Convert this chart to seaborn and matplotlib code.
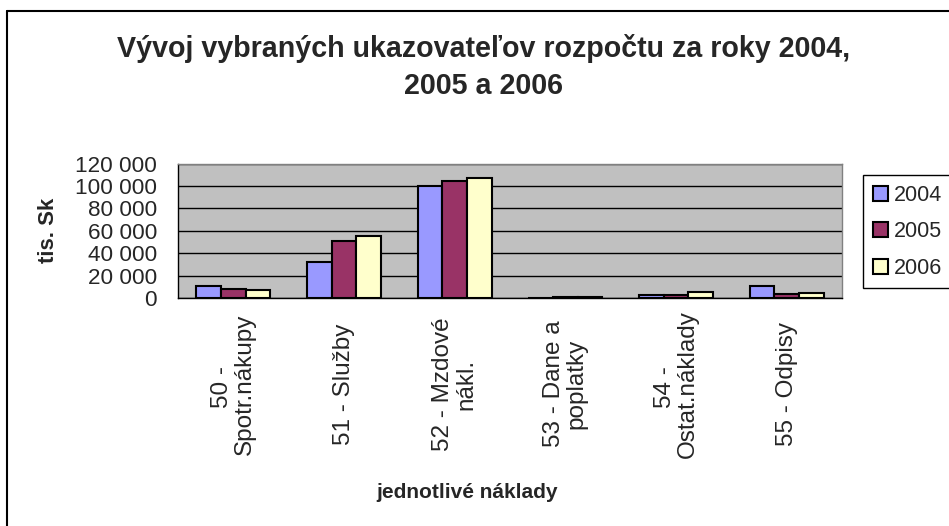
import matplotlib
matplotlib.use("Agg")
import matplotlib.pyplot as plt
import seaborn as sns
import pandas as pd
from matplotlib.lines import Line2D
from matplotlib.ticker import FuncFormatter, FixedLocator

# ---- data ----
categories = ["50 - \nSpotr.nákupy", "51 - Služby", "52 - Mzdové\nnákl.",
              "53 - Dane a\npoplatky", "54 - \nOstat.náklady", "55 - Odpisy"]
years = ["2004", "2005", "2006"]
values_2004 = [10700, 32300, 99500, 150, 2400, 10700]
values_2005 = [8300, 50900, 104200, 800, 3000, 3850]
values_2006 = [7100, 55300, 107500, 900, 5600, 4400]
y_ticks = [0, 20000, 40000, 60000, 80000, 100000, 120000]
title_text = "Vývoj vybraných ukazovateľov rozpočtu za roky 2004,\n2005 a 2006"
x_label = "jednotlivé náklady"
y_label = "tis. Sk"
colors = ["#9999FF", "#993366", "#FFFFCC"]

rows = []
for yr, vals in zip(years, [values_2004, values_2005, values_2006]):
    for c, v in zip(categories, vals):
        rows.append({"kategoria": c, "rok": yr, "hodnota": v})
df = pd.DataFrame(rows)

sns.set_style("white")
plt.rcParams["font.family"] = ["Liberation Sans", "DejaVu Sans"]

W, H = 949, 526
fig = plt.figure(figsize=(W / 100, H / 100), dpi=100)
fig.patch.set_facecolor("white")

ax = fig.add_axes([178 / W, 1 - 298 / H, (842 - 178) / W, (298 - 163.5) / H])
ax.set_facecolor("#C0C0C0")

sns.barplot(data=df, x="kategoria", y="hodnota", hue="rok", order=categories,
            hue_order=years, palette=colors, saturation=1, width=0.67,
            edgecolor="black", linewidth=1.5, ax=ax, errorbar=None)

ax.set_xlim(-0.5, len(categories) - 0.5)
ax.set_ylim(y_ticks[0], y_ticks[-1])
ax.yaxis.set_major_locator(FixedLocator(y_ticks))
ax.yaxis.set_major_formatter(FuncFormatter(lambda v, p: f"{int(v):,}".replace(",", " ")))
ax.grid(axis="y", color="black", linewidth=1)
ax.set_axisbelow(True)

for s in ["top", "right"]:
    ax.spines[s].set_color("#808080")
    ax.spines[s].set_linewidth(1)
for s in ["left", "bottom"]:
    ax.spines[s].set_color("black")
    ax.spines[s].set_linewidth(1)

ax.tick_params(axis="y", which="major", direction="out", length=6, width=1,
               color="black", labelsize=16.2, pad=9)
ax.set_xticks(range(len(categories)))
ax.set_xticklabels(categories, rotation=90, va="center", ha="center",
                   multialignment="center", fontsize=17.5, linespacing=1.05)
ax.tick_params(axis="x", which="major", length=0, pad=62)
ax.set_xticks([i - 0.5 for i in range(len(categories) + 1)], minor=True)
ax.tick_params(axis="x", which="minor", direction="out", length=6, width=1, color="black")

ax.set_xlabel(x_label, fontsize=15, fontweight="bold")
ax.xaxis.set_label_coords((467 - 178) / (842 - 178), (298 - 493) / (298 - 163.5))
ax.xaxis.label.set_va("center")
ax.set_ylabel(y_label, fontsize=16, fontweight="bold")
ax.yaxis.set_label_coords((48 - 178) / (842 - 178), 0.5)
ax.yaxis.label.set_va("center")

handles, labels = ax.get_legend_handles_labels()
leg = ax.legend(handles, labels, loc="upper left",
                bbox_to_anchor=(863 / W, 1 - 175 / H), bbox_transform=fig.transFigure,
                frameon=True, fancybox=False, framealpha=1, edgecolor="black",
                fontsize=15.5, handlelength=0.7, handleheight=0.7, handletextpad=0.3,
                labelspacing=0.72, borderpad=0.45, borderaxespad=0)
leg.get_frame().set_linewidth(1)

fig.text(484 / W, 1 - 67 / H, title_text, ha="center", va="center",
         multialignment="center", fontsize=20.6, fontweight="bold", linespacing=1.45)

fig.add_artist(Line2D([7 / W, 7 / W], [0, 1 - 11 / H], color="black", lw=1.5,
                      transform=fig.transFigure))
fig.add_artist(Line2D([7 / W, 1], [1 - 11 / H, 1 - 11 / H], color="black", lw=1.5,
                      transform=fig.transFigure))

fig.savefig("out.png", dpi=100)
